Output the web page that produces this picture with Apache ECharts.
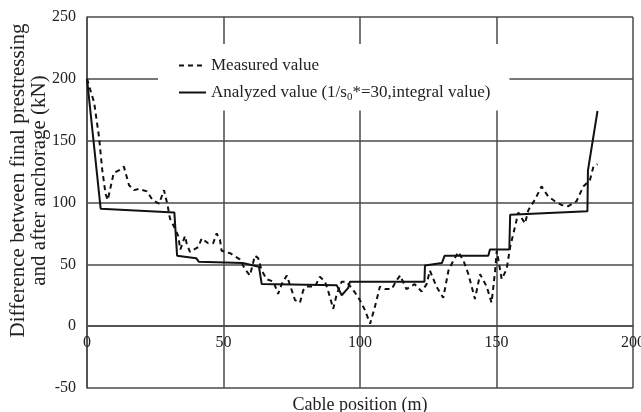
<!DOCTYPE html>
<html>
<head>
<meta charset="utf-8">
<script src="https://cdn.jsdelivr.net/npm/echarts@6/dist/echarts.min.js"></script>
<style>
  html, body { margin: 0; padding: 0; background: #fff; }
  #chart { width: 641px; height: 412px; }
</style>
</head>
<body>
<div id="chart"></div>
<script>
// Cable position (m) and force difference (kN) for the measured curve
const measuredX = [0, 2.6, 4.4, 5.6, 6.8, 7.6, 9.8, 11.7, 13.5, 15.4, 17.2, 19, 22, 24, 26.4, 28.2, 29.4, 30.4, 32, 33.4, 34.2, 35.9, 36.5, 37.7, 40.8, 42, 44.4, 46.2, 47.5, 48.7, 49.3, 52.4, 56, 57.9, 59.7, 61.5, 62.7, 64, 65.8, 68.3, 70, 71.3, 73.2, 74.4, 76.2, 78, 79.2, 80.5, 83.5, 85.3, 87.2, 88.4, 90.2, 91.5, 93.3, 95, 97.6, 100, 101.8, 103.7, 105.5, 107.3, 109.2, 111.6, 113.4, 114.7, 117, 120, 122.6, 124.4, 125.6, 128, 130.5, 132.4, 134.2, 136, 137.9, 139.7, 142.1, 144, 146.4, 148.2, 149.5, 150.1, 151.9, 153.7, 155, 156.2, 158, 160.4, 161.7, 164, 166.5, 168.9, 171.4, 173.8, 176.3, 179.3, 181.8, 184.2, 185.5, 187];
const measuredY = [200, 181, 153, 126, 107, 102, 124, 126, 129, 114, 110, 111, 109, 102, 99, 110, 99, 87, 80, 73, 62, 73, 67, 60, 64, 71, 67, 67, 75, 70, 61, 59, 54, 46, 41, 57, 55, 45, 38, 36, 26, 34, 41, 33, 21, 19, 29, 32, 32, 40, 36, 28, 14, 26, 36, 36, 29, 21, 13, 2, 16, 32, 30, 30, 37, 41, 30, 34, 28, 34, 45, 32, 23, 45, 53, 60, 53, 42, 22, 42, 32, 19, 45, 61, 38, 46, 64, 75, 92, 83, 94, 102, 113, 105, 101, 98, 97, 101, 113, 118, 129, 131];

// Analyzed curve (1/s0* = 30, integral value)
const analyzedX = [0, 5, 32, 33, 40, 41, 57, 63, 64, 91.5, 93.3, 95.7, 96.3, 123.6, 123.8, 130, 131, 147, 147.6, 154.7, 155, 183.3, 183.5, 187];
const analyzedY = [200, 95, 92, 57, 55, 52, 51, 48, 34, 33, 25, 31, 36, 36, 49, 51, 57, 57, 62, 62, 90, 93, 126, 174];

const xTicks = [0, 50, 100, 150, 200];
const yTicks = [-50, 0, 50, 100, 150, 200, 250];

const seriesNames = ['Measured value', 'Analyzed value (1/s0*=30,integral value)'];

const toPairs = (xs, ys) => xs.map((x, i) => [x, ys[i]]);

const gridColor = '#4a4a4a';
const font = '"Liberation Serif", "Times New Roman", serif';

// plot area in pixels; the x axis runs along the zero line
const gridTop = 17, gridBottom = 24, chartH = 412;
const plotH = chartH - gridTop - gridBottom;
const yMin = yTicks[0], yMax = yTicks[yTicks.length - 1];
const zeroOffset = -Math.round(plotH * (0 - yMin) / (yMax - yMin));

const chart = echarts.init(document.getElementById('chart'), null, { renderer: 'canvas' });
chart.setOption({
  animation: false,
  backgroundColor: '#ffffff',
  textStyle: { fontFamily: font, color: '#222' },
  grid: { left: 87, right: 8, top: gridTop, bottom: gridBottom, containLabel: false, outerBoundsMode: 'none' },
  legend: {
    orient: 'vertical',
    left: 158,
    top: 44,
    padding: [13, 19, 8, 20],
    backgroundColor: '#ffffff',
    itemWidth: 27,
    itemHeight: 14,
    itemGap: 10,
    itemStyle: { opacity: 0 },
    data: seriesNames,
    textStyle: {
      fontFamily: font,
      fontSize: 17,
      color: '#222',
      rich: {
        sub: { fontFamily: font, fontSize: 11, color: '#222', padding: [9, 0, 0, 0] }
      }
    },
    formatter: function (name) {
      if (name === seriesNames[1]) {
        return 'Analyzed value (1/s{sub|0}*=30,integral value)';
      }
      return name;
    }
  },
  xAxis: {
    type: 'value',
    min: xTicks[0],
    max: xTicks[xTicks.length - 1],
    interval: 50,
    offset: zeroOffset,
    name: 'Cable position (m)',
    nameLocation: 'middle',
    nameGap: 70,
    nameMoveOverlap: false,
    nameTextStyle: { fontFamily: font, fontSize: 18, color: '#222' },
    axisLine: { show: true, onZero: false, lineStyle: { color: gridColor, width: 1.5 } },
    axisTick: { show: false },
    axisLabel: { fontFamily: font, fontSize: 16, color: '#222', margin: 9 },
    splitLine: { show: true, lineStyle: { color: gridColor, width: 1.5 } }
  },
  yAxis: {
    type: 'value',
    min: yMin,
    max: yMax,
    interval: 50,
    name: 'Difference between final prestressing\nand after anchorage (kN)',
    nameLocation: 'middle',
    nameGap: 37,
    nameRotate: 90,
    nameMoveOverlap: false,
    nameTextStyle: { fontFamily: font, fontSize: 21, color: '#222', lineHeight: 21, padding: [0, 0, 0, 44] },
    axisLine: { show: true, onZero: false, lineStyle: { color: gridColor, width: 1.5 } },
    axisTick: { show: false },
    axisLabel: { fontFamily: font, fontSize: 16, color: '#222', margin: 11 },
    splitLine: { show: true, lineStyle: { color: gridColor, width: 1.5 } }
  },
  series: [
    {
      name: seriesNames[0],
      type: 'line',
      data: toPairs(measuredX, measuredY),
      showSymbol: false,
      symbol: 'none',
      lineStyle: { color: '#111', width: 2, type: [5, 4] },
      itemStyle: { color: '#111' },
      z: 3
    },
    {
      name: seriesNames[1],
      type: 'line',
      data: toPairs(analyzedX, analyzedY),
      showSymbol: false,
      symbol: 'none',
      lineStyle: { color: '#111', width: 2 },
      itemStyle: { color: '#111' },
      z: 4
    }
  ]
});
</script>
</body>
</html>
